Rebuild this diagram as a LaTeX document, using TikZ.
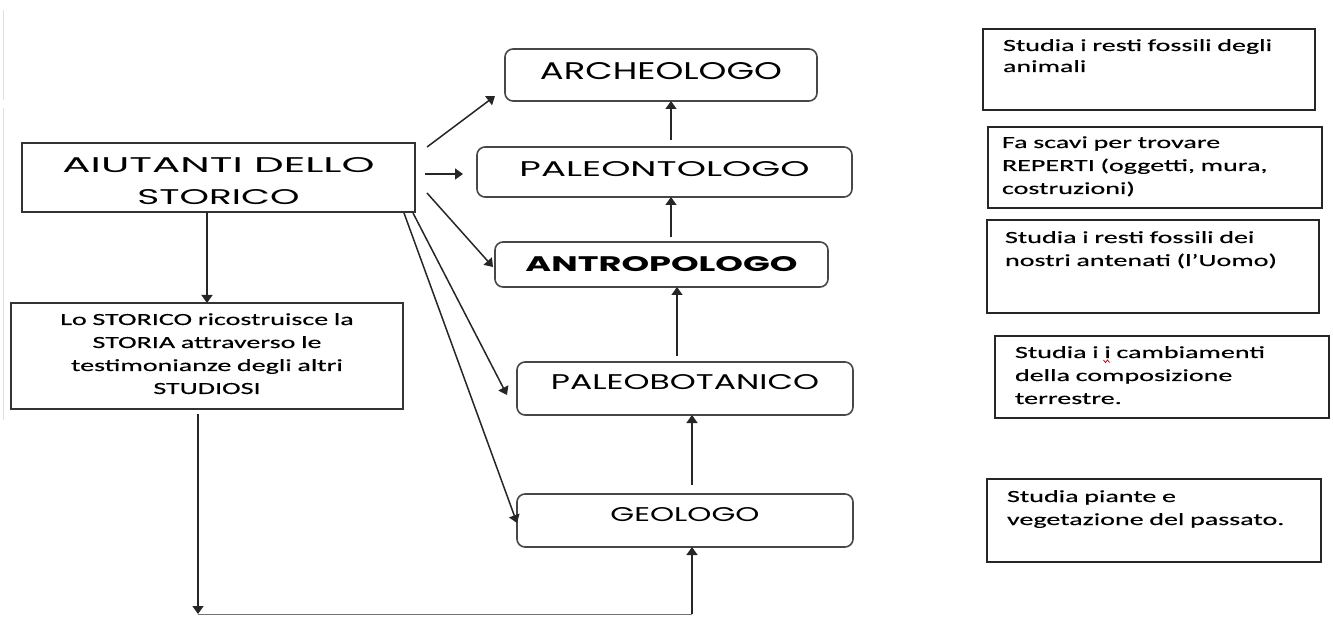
\documentclass[tikz,border=0pt]{standalone}
\usepackage{fontspec}
\usepackage{graphicx}
\usetikzlibrary{arrows.meta,calc}
\setmainfont{Carlito}
\newfontfamily\capsfont{Poppins}
\newfontfamily\notefont[FakeStretch=1.65,FakeBold=0.4]{Carlito}
\begin{document}
\begin{tikzpicture}[x=1pt,y=-1pt,
  every node/.style={inner sep=0pt, outer sep=0pt},
  mainbox/.style={draw=black!72, line width=1.6pt, rounded corners=8pt, font=\capsfont},
  sqbox/.style={draw=black!80, line width=1.7pt},
  notebox/.style={draw=black!85, line width=1.9pt, align=left, font=\notefont\fontsize{17}{23}\selectfont},
  arr/.style={draw=black!85, line width=1.5pt, -{Triangle[length=8pt,width=11pt]}},
  link/.style={draw=black!55, line width=0.9pt}]
\useasboundingbox (0,0) rectangle (1333,617);

% faint scan edge
\draw[black!12, line width=1pt] (3,10) -- (3,100);
\draw[black!12, line width=1pt] (3,108) -- (3,420);

% central chain
\node[mainbox, minimum width=312pt, minimum height=52pt, text height=31pt, text depth=21pt] (arch) at (661,75) {\resizebox{242pt}{17pt}{ARCHEOLOGO}};
\node[mainbox, minimum width=375pt, minimum height=50pt, text height=30pt, text depth=20pt] (paleonto) at (664.5,172) {\resizebox{290pt}{15pt}{PALEONTOLOGO}};
\node[mainbox, minimum width=333pt, minimum height=45pt, text height=30pt, text depth=15pt] (antro) at (661.5,264.5) {\resizebox{272pt}{15pt}{\bfseries ANTROPOLOGO}};
\node[mainbox, minimum width=336pt, minimum height=53pt, text height=28pt, text depth=25pt] (paleobot) at (685,388.5) {\resizebox{268pt}{15pt}{PALEOBOTANICO}};
\node[mainbox, minimum width=336pt, minimum height=53pt, text height=27pt, text depth=26pt] (geo) at (685,520.5) {\resizebox{149pt}{14pt}{GEOLOGO}};

% left boxes
\node[sqbox, font=\capsfont, minimum width=393pt, minimum height=69pt, text height=30pt, text depth=39pt] (aiut) at (218.5,177.5)
  {\vtop{\baselineskip=32pt\hbox to 312pt{\hss\resizebox{312pt}{15pt}{AIUTANTI DELLO}\hss}\hbox to 312pt{\hss\resizebox{162pt}{15pt}{STORICO}\hss}}};
\node[sqbox, text width=370pt, align=center, inner xsep=11pt, minimum height=106pt, text height=22pt, text depth=84pt, font=\notefont\fontsize{17}{23}\selectfont] (lo) at (207,356)
  {Lo STORICO ricostruisce la\\STORIA attraverso le\\testimonianze degli altri\\STUDIOSI};

% right notes
\node[notebox, text width=292pt, inner xsep=20pt, minimum height=81pt, text height=22pt, text depth=59pt] (n1) at (1149,69.5)
  {Studia i resti fossili degli\\[-2pt]animali};
\node[notebox, text width=306pt, inner xsep=14pt, minimum height=81pt, text height=21pt, text depth=60pt] (n2) at (1155,167.5)
  {Fa scavi per trovare\\REPERTI (oggetti, mura,\\costruzioni)};
\node[notebox, text width=296pt, inner xsep=18pt, minimum height=93pt, text height=23pt, text depth=70pt] (n3) at (1153,266.5)
  {Studia i resti fossili dei\\nostri antenati (l’Uomo)};
\node[notebox, text width=294pt, inner xsep=20pt, minimum height=82pt, text height=22pt, text depth=60pt] (n4) at (1162,377)
  {Studia i i cambiamenti\\della composizione\\terrestre.};
\node[notebox, text width=294pt, inner xsep=20pt, minimum height=83pt, text height=23pt, text depth=60pt] (n5) at (1154,520.5)
  {Studia piante e\\vegetazione del passato.};
% spell-check mark
\draw[red!80!black, line width=0.8pt] (1103.5,360) -- (1105.5,362.5) -- (1107.5,360) -- (1109.5,362.5);

% connectors from AIUTANTI
\draw[arr] ($(aiut.south)+(-11.5,0)$) -- (lo.north);
\draw[arr] ($(aiut.north east)+(12,4)$) -- ($(arch.south west)+(-10,-5)$);
\draw[arr] ($(aiut.east)+(10,-3.5)$) -- ($(paleonto.west)+(-14,2)$);
\draw[arr] ($(aiut.east)+(12,15.5)$) -- ($(antro.west)+(-2,2.5)$);
\draw[arr] ($(aiut.south east)+(-2,1)$) -- ($(paleobot.west)+(-10,6.5)$);
\draw[arr] ($(aiut.south east)+(-11,1)$) -- ($(geo.west)+(0,2.5)$);

% chain arrows
\draw[arr] ($(geo.north)+(7,-9)$) -- ($(paleobot.south)+(7,0)$);
\draw[arr] ($(paleobot.north)+(-8,-6)$) -- ($(antro.south)+(15.5,0)$);
\draw[arr] ($(antro.north)+(9.5,-5)$) -- ($(paleonto.south)+(6.5,0)$);
\draw[arr] ($(paleonto.north)+(6.5,-7)$) -- ($(arch.south)+(10,0)$);

% bottom loop
\coordinate (c1) at (198,614);
\coordinate (c2) at (692,614);
\draw[link] (c1) -- (c2);
\draw[arr] ($(lo.south)+(-9,5)$) -- (c1);
\draw[arr] (c2) -- ($(geo.south)+(7,0)$);
\end{tikzpicture}
\end{document}
